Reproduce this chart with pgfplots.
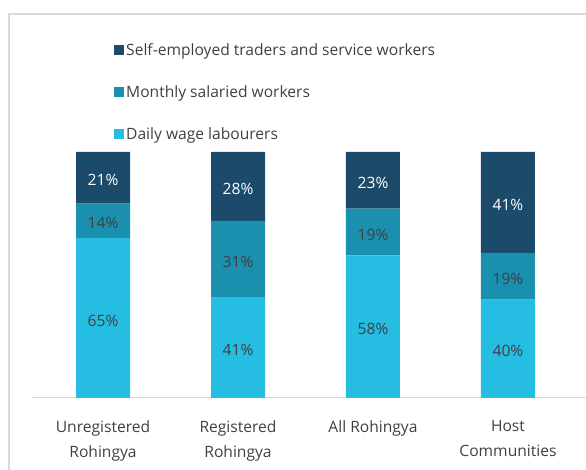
\documentclass[border=0pt]{standalone}
\usepackage{pgfplots}
\pgfplotsset{compat=1.18}
\usepackage{fontspec}
\setmainfont{Open Sans}
\definecolor{cDark}{HTML}{1C4A6A}
\definecolor{cMid}{HTML}{1B8FAE}
\definecolor{cLight}{HTML}{25BDE2}
\definecolor{txt}{HTML}{404040}
\definecolor{framec}{HTML}{D9D9D9}
\begin{document}
\begin{tikzpicture}[x=1bp,y=1bp]
\path[use as bounding box] (0,0) rectangle (586,470);
\draw[framec, line width=1.5bp] (9,-5) -- (9,456) -- (600,456);
\begin{axis}[
  at={(32bp,72bp)}, anchor=south west,
  scale only axis, width=554bp, height=246bp,
  ybar stacked, bar width=54bp,
  xmin=-0.526, xmax=3.578, ymin=0, ymax=100,
  axis x line*=bottom, axis y line=none,
  x axis line style={framec, line width=1bp, -},
  xtick={0,1,2,3},
  xticklabels={Unregistered\\Rohingya, Registered\\Rohingya, All Rohingya, Host\\Communities},
  xticklabel style={align=center, text=txt, font=\fontsize{15.6bp}{25bp}\selectfont, yshift=-19bp},
  major tick length=0pt,
  clip=false,
  visualization depends on={rawy \as \rawy},
  nodes near coords={\pgfmathprintnumber[assume math mode=true, fixed, precision=0]{\rawy}\%},
  every node near coord/.append style={anchor=center, yshift=-2.5bp, font=\fontsize{15.6bp}{18bp}\selectfont},
  legend style={at={(axis cs:0.0815,145)}, anchor=north west, draw=none, fill=none, inner sep=0pt, row sep=24.5bp, font=\fontsize{15.6bp}{18bp}\selectfont, text=txt},
  legend cell align=left,
  reverse legend,
  legend image code/.code={\fill[#1] (0bp,-5bp) rectangle (10bp,5bp);},
]
\addplot[fill=cLight, draw=none, every node near coord/.append style={text=txt}] coordinates {(0,65) (1,41) (2,58) (3,40)};
\addlegendentry{Daily wage labourers}
\addplot[fill=cMid, draw=none, every node near coord/.append style={text=txt}] coordinates {(0,14) (1,31) (2,19) (3,19)};
\addlegendentry{Monthly salaried workers}
\addplot[fill=cDark, draw=none, every node near coord/.append style={text=white}] coordinates {(0,21) (1,28) (2,23) (3,41)};
\addlegendentry{Self-employed traders and service workers}
\end{axis}
\end{tikzpicture}
\end{document}
